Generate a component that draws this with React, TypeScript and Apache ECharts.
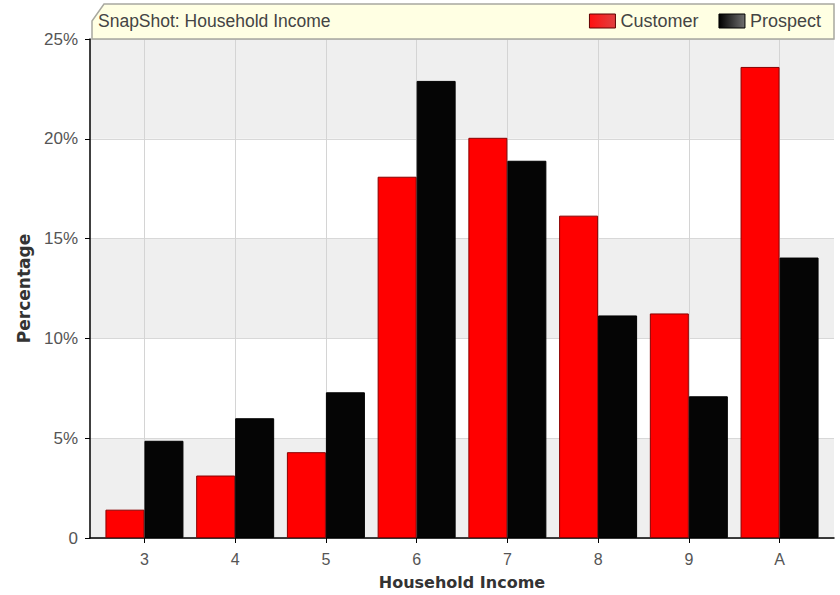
import React, { useEffect, useRef } from "react";
import * as echarts from "echarts";

const categories = ["3", "4", "5", "6", "7", "8", "9", "A"];
const customerValues = [1.42, 3.13, 4.3, 18.1, 20.05, 16.15, 11.25, 23.6];
const prospectValues = [4.87, 6.0, 7.3, 22.9, 18.9, 11.15, 7.1, 14.05];
const yTicks = [0, 5, 10, 15, 20, 25];

const FONT = "'Liberation Sans', Arial, sans-serif";
const BOLD_FONT = "'DejaVu Sans', 'Liberation Sans', Arial, sans-serif";

export default function App() {
  const ref = useRef<HTMLDivElement>(null);
  useEffect(() => {
    if (!ref.current) return;
    const chart = echarts.init(ref.current, null, { renderer: "svg" });
    const idx = categories.map((_, i) => i);
    const redGrad = new echarts.graphic.LinearGradient(0, 0, 1, 0, [
      { offset: 0, color: "#ff1010" },
      { offset: 1, color: "#e04040" },
    ]);
    const blackGrad = new echarts.graphic.LinearGradient(0, 0, 1, 0, [
      { offset: 0, color: "#000000" },
      { offset: 1, color: "#707070" },
    ]);
    chart.setOption({
      animation: false,
      backgroundColor: "#ffffff",
      textStyle: { fontFamily: FONT },
      grid: { left: 90, top: 39, width: 744, height: 501, containLabel: false },
      graphic: [
        {
          type: "polygon",
          z: 100,
          shape: {
            points: [
              [92, 39],
              [92, 21],
              [104, 4],
              [834, 4],
              [834, 39],
            ],
          },
          style: { fill: "#ffffe3", stroke: "#a8a8a0", lineWidth: 1.5 },
        },
        {
          type: "text",
          z: 101,
          x: 98,
          y: 21,
          style: {
            text: "SnapShot: Household Income",
            fill: "#444444",
            font: `17.5px ${FONT}`,
            verticalAlign: "middle",
          },
        },
      ],
      legend: {
        z: 102,
        right: 14,
        top: 7,
        icon: "rect",
        itemWidth: 26,
        itemHeight: 14,
        itemGap: 20,
        textStyle: { color: "#444444", fontSize: 18, fontFamily: FONT },
        data: [
          { name: "Customer", itemStyle: { color: redGrad, borderColor: "#600000", borderWidth: 1 } },
          { name: "Prospect", itemStyle: { color: blackGrad, borderColor: "#000000", borderWidth: 1 } },
        ],
      },
      xAxis: {
        type: "value",
        min: -0.6,
        max: 7.6,
        name: "Household Income",
        nameLocation: "middle",
        nameGap: 36,
        nameTextStyle: { color: "#333333", fontSize: 16, fontWeight: "bold", fontFamily: BOLD_FONT },
        axisLine: { show: true, onZero: false, lineStyle: { color: "#000000", width: 1.5 } },
        axisTick: { show: true, length: 5, customValues: idx, lineStyle: { color: "#000000" } },
        axisLabel: {
          customValues: idx,
          color: "#555555",
          fontSize: 16,
          margin: 13,
          formatter: (v: number) => categories[Math.round(v)] ?? "",
        },
        splitLine: { show: true, lineStyle: { color: "#d4d4d4", width: 1 } },
      },
      yAxis: {
        type: "value",
        min: 0,
        max: 25,
        interval: 5,
        name: "Percentage",
        nameLocation: "middle",
        nameGap: 58,
        nameTextStyle: { color: "#333333", fontSize: 17, fontWeight: "bold", fontFamily: BOLD_FONT },
        axisLine: { show: true, onZero: false, lineStyle: { color: "#000000", width: 1.5 } },
        axisTick: { show: true, length: 5, lineStyle: { color: "#000000" } },
        axisLabel: {
          color: "#555555",
          fontSize: 17,
          margin: 12,
          formatter: (v: number) => (v === 0 ? "0" : `${v}%`),
          customValues: yTicks,
        },
        splitLine: { show: true, lineStyle: { color: "#d8d8d8", width: 1 } },
        splitArea: { show: true, areaStyle: { color: ["#efefef", "#ffffff"] } },
      },
      series: [
        {
          name: "Customer",
          type: "bar",
          barWidth: 39,
          barGap: "0%",
          data: customerValues.map((v, i) => [i, v]),
          itemStyle: { color: "#ff0000", borderColor: "#8a0000", borderWidth: 1 },
        },
        {
          name: "Prospect",
          type: "bar",
          barWidth: 39,
          barGap: "0%",
          data: prospectValues.map((v, i) => [i, v]),
          itemStyle: { color: "#050505", borderColor: "#000000", borderWidth: 1 },
        },
      ],
    });
    return () => chart.dispose();
  }, []);
  return (
    <div
      ref={ref}
      style={{ position: "fixed", left: 0, top: 0, width: 840, height: 595 }}
    />
  );
}
